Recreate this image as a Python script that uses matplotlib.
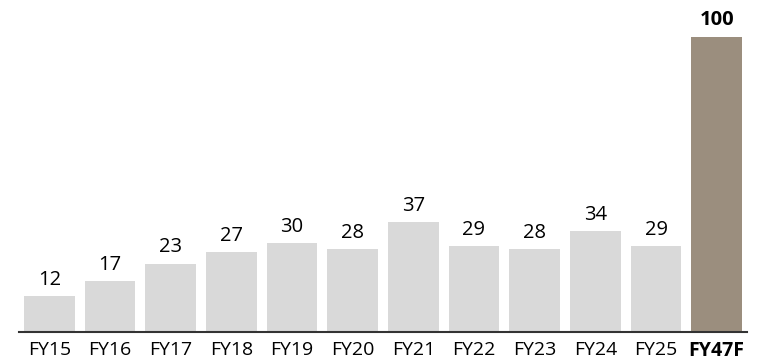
import matplotlib
matplotlib.use("Agg")
import matplotlib.pyplot as plt

categories = ["FY15", "FY16", "FY17", "FY18", "FY19", "FY20", "FY21", "FY22", "FY23", "FY24", "FY25", "FY47F"]
values = [12, 17, 23, 27, 30, 28, 37, 29, 28, 34, 29, 100]
colors = ["#d9d9d9"] * 11 + ["#9b8e7e"]

plt.rcParams['font.family'] = ['Open Sans', 'DejaVu Sans']

fig = plt.figure(figsize=(7.66, 3.63), dpi=100)
ax = fig.add_axes([19/766, 1 - 331.5/363, 728/766, (331.5 - 36.7)/363])

x = list(range(len(categories)))
bars = ax.bar(x, values, width=0.84, color=colors, zorder=2)

for i, (xi, v) in enumerate(zip(x, values)):
    bold = (i == len(values) - 1)
    ax.annotate(str(v), (xi, v), xytext=(0, 4.5), textcoords="offset points",
                ha="center", va="bottom", fontsize=14.5,
                fontweight="bold" if bold else "normal", color="#000000",
                annotation_clip=False)

ax.set_xlim(-0.5, len(categories) - 0.5)
ax.set_ylim(0, 100)
ax.set_xticks(x)
ax.set_xticklabels(categories, fontsize=14)
ax.get_xticklabels()[-1].set_fontweight("bold")
ax.tick_params(axis="x", length=0, pad=7)
ax.set_yticks([])
for s in ["top", "right", "left"]:
    ax.spines[s].set_visible(False)
ax.spines["bottom"].set_color("#333333")
ax.spines["bottom"].set_linewidth(1.5)

fig.savefig("out.png", dpi=100)
